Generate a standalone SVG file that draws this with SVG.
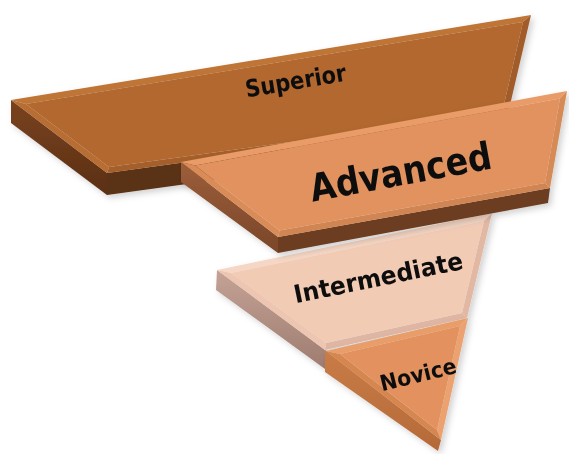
<svg xmlns="http://www.w3.org/2000/svg" width="569" height="454" viewBox="0 0 569 454">
<defs>
<filter id="sh" x="-10%" y="-10%" width="120%" height="130%">
<feDropShadow dx="3" dy="3" stdDeviation="3" flood-color="#000" flood-opacity="0.18"/>
</filter>
<linearGradient id="gSupSide" x1="0" y1="0" x2="0" y2="1"><stop offset="0" stop-color="#7A4320"/><stop offset="1" stop-color="#5A2F13"/></linearGradient>
<linearGradient id="gAdvSide" x1="0" y1="0" x2="0" y2="1"><stop offset="0" stop-color="#9C5E3A"/><stop offset="1" stop-color="#7A4629"/></linearGradient>
<linearGradient id="gIntSide" x1="0" y1="0" x2="0" y2="1"><stop offset="0" stop-color="#C4A396"/><stop offset="1" stop-color="#9E7C6F"/></linearGradient>
<linearGradient id="gNovSide" x1="0" y1="0" x2="0" y2="1"><stop offset="0" stop-color="#C97C47"/><stop offset="1" stop-color="#B56A38"/></linearGradient>
</defs>
<style>
.lbl{font-family:"DejaVu Sans","Liberation Sans",sans-serif;font-weight:bold;fill:#111;text-anchor:middle}
</style>

<g id="superior" filter="url(#sh)">
<polygon points="11,100 107,173 107,195 11,123" fill="url(#gSupSide)"/>
<polygon points="107,173 507,118 507,140 107,195" fill="#5A3014"/>
<polygon points="11,100 531,15 523,22 26,104" fill="#BE7436"/>
<polygon points="531,15 507,118 502,113 523,22" fill="#A15B2A"/>
<polygon points="507,118 107,173 109,167 502,113" fill="#A55E2B"/>
<polygon points="107,173 11,100 26,104 109,167" fill="#B86D33"/>
<polygon points="26,104 523,22 502,113 109,167" fill="#B2672F"/>
<text class="lbl" x="297" y="89" font-size="24" textLength="102" lengthAdjust="spacingAndGlyphs" transform="rotate(-9.5 297 89)">Superior</text>
</g>

<g id="intermediate" filter="url(#sh)">
<polygon points="217,270 325,350 325,369 216,290" fill="url(#gIntSide)"/>
<polygon points="217,270 492,213 484,221 231,273" fill="#F6D6C4"/>
<polygon points="492,213 467,318 462,313 484,221" fill="#E2B8A3"/>
<polygon points="467,318 325,350 326,343 462,313" fill="#DFB6A3"/>
<polygon points="325,350 217,270 231,273 326,343" fill="#EDC5B0"/>
<polygon points="231,273 484,221 462,313 326,343" fill="#F2CBB5"/>
<text class="lbl" x="380" y="286" font-size="25" textLength="172" lengthAdjust="spacingAndGlyphs" transform="rotate(-11.6 380 286)">Intermediate</text>
</g>

<g id="novice" filter="url(#sh)">
<polygon points="325,350 441,440 438,451 325,372" fill="url(#gNovSide)"/>
<polygon points="326,351 468,318 460,326 340,354" fill="#E99D69"/>
<polygon points="468,318 441,440 437,430 460,326" fill="#ECA26F"/>
<polygon points="441,440 326,351 340,354 437,430" fill="#D68750"/>
<polygon points="340,354 460,326 437,430" fill="#E3925E"/>
<text class="lbl" x="420" y="382" font-size="22" textLength="78" lengthAdjust="spacingAndGlyphs" transform="rotate(-13.7 420 382)">Novice</text>
</g>

<g id="advanced" filter="url(#sh)">
<polygon points="181,162 278,237 278,253 181,182" fill="url(#gAdvSide)"/>
<polygon points="278,237 550,188 548,203 278,253" fill="#6D3E23"/>
<polygon points="181,162 567,91 560,98.5 195,165.5" fill="#E99C68"/>
<polygon points="567,91 550,188 545,183 560,98.5" fill="#D68A57"/>
<polygon points="550,188 278,237 279.6,230.6 545,183" fill="#D08553"/>
<polygon points="278,237 181,162 195,165.5 279.6,230.6" fill="#DA8C59"/>
<polygon points="195,165.5 560,98.5 545,183 279.6,230.6" fill="#E2925F"/>
<text class="lbl" x="403" y="185" font-size="38" textLength="184" lengthAdjust="spacingAndGlyphs" transform="rotate(-10.5 403 185)">Advanced</text>
</g>
</svg>
